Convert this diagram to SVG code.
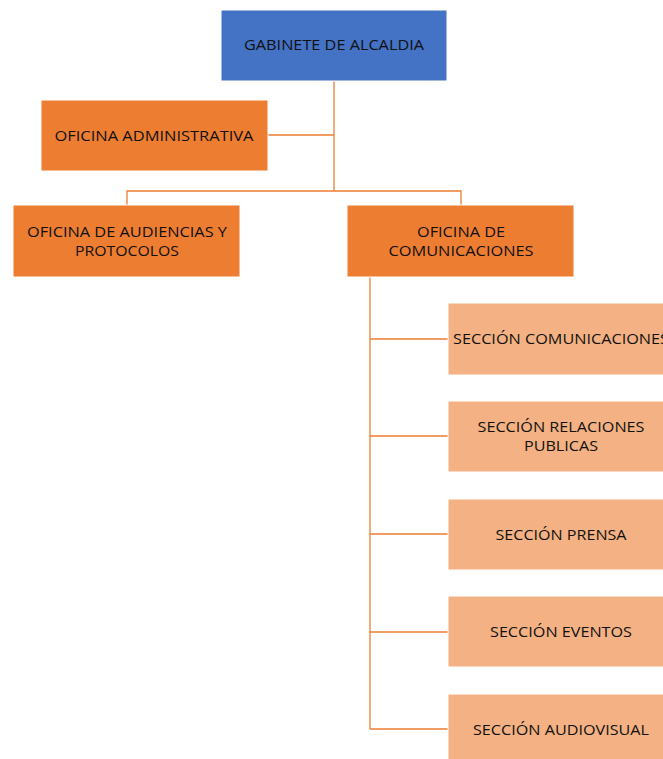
<svg xmlns="http://www.w3.org/2000/svg" width="663" height="759" viewBox="0 0 663 759">
  <style>
    .box { stroke: #ffffff; stroke-width: 1; }
    .top { fill: #4472C4; }
    .office { fill: #ED7D31; }
    .section { fill: #F4B183; }
    .lbl { font-family: "Open Sans", "Liberation Sans", sans-serif; font-size: 14px; fill: #111111; text-anchor: middle; }
    .link { fill: none; stroke: #ED7D31; stroke-width: 1.3; }
  </style>
  <rect width="663" height="759" fill="#ffffff"/>

  <g id="connectors">
    <path class="link" d="M334 81 V191"/>
    <path class="link" d="M268 135 H334"/>
    <path class="link" d="M127 205 V191 H461 V205"/>
    <path class="link" d="M370 277 V729"/>
    <path class="link" d="M370 339 H448"/>
    <path class="link" d="M370 436 H448"/>
    <path class="link" d="M370 534 H448"/>
    <path class="link" d="M370 632 H448"/>
    <path class="link" d="M370 729 H448"/>
  </g>

  <g id="gabinete">
    <rect class="box top" x="221" y="10" width="226" height="71"/>
    <text class="lbl" x="334" y="50" textLength="180" lengthAdjust="spacingAndGlyphs">GABINETE DE ALCALDIA</text>
  </g>

  <g id="oficina-administrativa">
    <rect class="box office" x="41" y="100" width="227" height="71"/>
    <text class="lbl" x="154" y="141" textLength="199" lengthAdjust="spacingAndGlyphs">OFICINA ADMINISTRATIVA</text>
  </g>

  <g id="oficina-audiencias">
    <rect class="box office" x="13" y="205" width="227" height="72"/>
    <text class="lbl" x="127" y="237" textLength="200" lengthAdjust="spacingAndGlyphs">OFICINA DE AUDIENCIAS Y</text>
    <text class="lbl" x="127" y="256" textLength="104" lengthAdjust="spacingAndGlyphs">PROTOCOLOS</text>
  </g>

  <g id="oficina-comunicaciones">
    <rect class="box office" x="347" y="205" width="227" height="72"/>
    <text class="lbl" x="461" y="237" textLength="88" lengthAdjust="spacingAndGlyphs">OFICINA DE</text>
    <text class="lbl" x="461" y="256" textLength="145" lengthAdjust="spacingAndGlyphs">COMUNICACIONES</text>
  </g>

  <g id="seccion-comunicaciones">
    <rect class="box section" x="448" y="303" width="227" height="72"/>
    <text class="lbl" x="561" y="344" textLength="216" lengthAdjust="spacingAndGlyphs">SECCIÓN COMUNICACIONES</text>
  </g>

  <g id="seccion-relaciones-publicas">
    <rect class="box section" x="448" y="401" width="227" height="71"/>
    <text class="lbl" x="561" y="432" textLength="167" lengthAdjust="spacingAndGlyphs">SECCIÓN RELACIONES</text>
    <text class="lbl" x="561" y="451" textLength="74" lengthAdjust="spacingAndGlyphs">PUBLICAS</text>
  </g>

  <g id="seccion-prensa">
    <rect class="box section" x="448" y="499" width="227" height="71"/>
    <text class="lbl" x="561" y="540" textLength="131" lengthAdjust="spacingAndGlyphs">SECCIÓN PRENSA</text>
  </g>

  <g id="seccion-eventos">
    <rect class="box section" x="448" y="596" width="227" height="71"/>
    <text class="lbl" x="561" y="637" textLength="142" lengthAdjust="spacingAndGlyphs">SECCIÓN EVENTOS</text>
  </g>

  <g id="seccion-audiovisual">
    <rect class="box section" x="448" y="694" width="227" height="71"/>
    <text class="lbl" x="561" y="735" textLength="176" lengthAdjust="spacingAndGlyphs">SECCIÓN AUDIOVISUAL</text>
  </g>
</svg>
